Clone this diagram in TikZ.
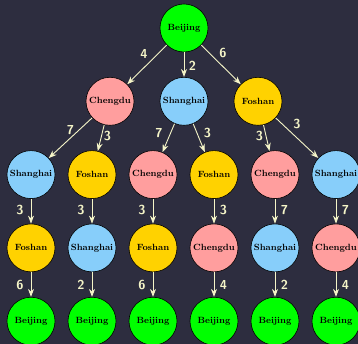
\documentclass[tikz,border=0pt]{standalone}
\usetikzlibrary{arrows.meta}
\definecolor{bg}{RGB}{45,45,63}
\definecolor{edgecol}{RGB}{245,245,200}
\definecolor{cityGreen}{RGB}{0,255,0}
\definecolor{cityPink}{RGB}{255,158,158}
\definecolor{cityBlue}{RGB}{135,206,250}
\definecolor{cityGold}{RGB}{255,210,0}
\tikzset{
  city/.style={circle, draw=black, line width=0.6pt, minimum size=48pt,
    inner sep=0pt, text=black, font=\fontsize{9}{10}\selectfont\bfseries},
  bj/.style={city, fill=cityGreen},
  cd/.style={city, fill=cityPink},
  sh/.style={city, fill=cityBlue},
  fs/.style={city, fill=cityGold},
  road/.style={draw=edgecol, line width=0.9pt, -{Stealth[length=8pt,width=6pt]}},
  dist/.style={text=edgecol, inner sep=0pt,
    font=\sffamily\bfseries\fontsize{13}{14}\selectfont},
  distL/.style={dist, xshift=-11pt},
  distR/.style={dist, xshift=9.5pt},
}
\begin{document}
\begin{tikzpicture}[x=1pt, y=-1pt]
  \fill[bg] (0,0) rectangle (358,344);
  \useasboundingbox (0,0) rectangle (358,344);

  % root
  \node[bj] (r) at (184,28) {Beijing};
  % level 1
  \node[cd] (c1) at (110,101.3) {Chengdu};
  \node[sh] (s1) at (184,101.3) {Shanghai};
  \node[fs] (f1) at (258,101.3) {Foshan};
  % level 2
  \node[sh] (a2) at (31,174.6)  {Shanghai};
  \node[fs] (b2) at (92,174.6)  {Foshan};
  \node[cd] (c2) at (153,174.6) {Chengdu};
  \node[fs] (d2) at (214,174.6) {Foshan};
  \node[cd] (e2) at (275,174.6) {Chengdu};
  \node[sh] (g2) at (336,174.6) {Shanghai};
  % level 3
  \node[fs] (a3) at (31,247.9)  {Foshan};
  \node[sh] (b3) at (92,247.9)  {Shanghai};
  \node[fs] (c3) at (153,247.9) {Foshan};
  \node[cd] (d3) at (214,247.9) {Chengdu};
  \node[sh] (e3) at (275,247.9) {Shanghai};
  \node[cd] (g3) at (336,247.9) {Chengdu};
  % level 4
  \node[bj] (a4) at (31,321.2)  {Beijing};
  \node[bj] (b4) at (92,321.2)  {Beijing};
  \node[bj] (c4) at (153,321.2) {Beijing};
  \node[bj] (d4) at (214,321.2) {Beijing};
  \node[bj] (e4) at (275,321.2) {Beijing};
  \node[bj] (g4) at (336,321.2) {Beijing};

  % root to level 1
  \draw[road] (r) -- node[dist, xshift=-3pt, yshift=11pt] {4} (c1);
  \draw[road] (r) -- node[dist, xshift=8.5pt, yshift=-1pt] {2} (s1);
  \draw[road] (r) -- node[dist, xshift=2pt, yshift=12pt] {6} (f1);

  % level 1 to level 2
  \draw[road] (c1) -- node[dist, yshift=7.5pt] {7} (a2);
  \draw[road] (c1) -- node[dist, xshift=6.5pt, yshift=2pt] {3} (b2);
  \draw[road] (s1) -- node[dist, xshift=-9.5pt, yshift=4.5pt] {7} (c2);
  \draw[road] (s1) -- node[dist, xshift=8.5pt, yshift=4.5pt] {3} (d2);
  \draw[road] (f1) -- node[dist, xshift=-7pt, yshift=1.5pt] {3} (e2);
  \draw[road] (f1) -- node[dist, yshift=13.5pt] {3} (g2);

  % level 2 to level 3
  \draw[road] (a2) -- node[distL, yshift=1.5pt] {3} (a3);
  \draw[road] (b2) -- node[distL, yshift=1.5pt] {3} (b3);
  \draw[road] (c2) -- node[distL, yshift=1.5pt] {3} (c3);
  \draw[road] (d2) -- node[distR, yshift=1.5pt] {3} (d3);
  \draw[road] (e2) -- node[distR, yshift=1.5pt] {7} (e3);
  \draw[road] (g2) -- node[distR, yshift=1.5pt] {7} (g3);

  % level 3 to level 4
  \draw[road] (a3) -- node[distL] {6} (a4);
  \draw[road] (b3) -- node[distL] {2} (b4);
  \draw[road] (c3) -- node[distL] {6} (c4);
  \draw[road] (d3) -- node[distR] {4} (d4);
  \draw[road] (e3) -- node[distR] {2} (e4);
  \draw[road] (g3) -- node[distR] {4} (g4);
\end{tikzpicture}
\end{document}
